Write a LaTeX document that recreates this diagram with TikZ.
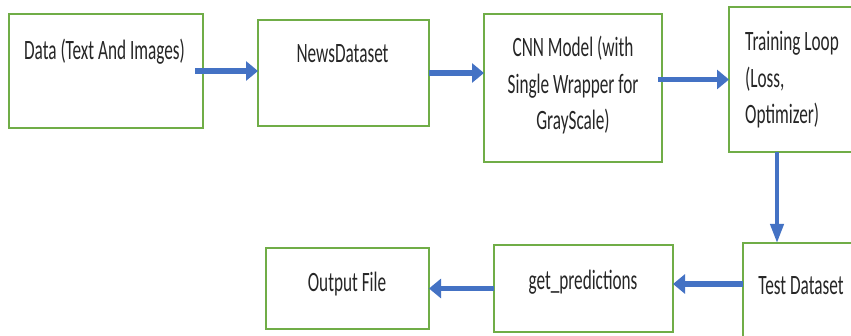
\documentclass[tikz,border=0pt]{standalone}
\usepackage{fontspec}
\setmainfont{Carlito}[FakeStretch=0.615]
\usetikzlibrary{arrows.meta}
\definecolor{boxgreen}{HTML}{70AD47}
\definecolor{arrblue}{HTML}{4472C4}
\definecolor{txtgray}{HTML}{262626}
\begin{document}
\begin{tikzpicture}[x=1pt,y=-1pt,
  box/.style={draw=boxgreen, line width=2pt, inner sep=0pt, outer sep=0pt, rectangle, fill=white},
  lbl/.style={font=\fontsize{28}{36.5}\selectfont, text=txtgray, inner sep=0pt},
  harr/.style={draw=arrblue, line width=5.5pt, -{Triangle[length=12pt,width=19pt]}},
  varr/.style={draw=arrblue, line width=4pt, -{Triangle[length=19pt,width=13pt]}}]
\useasboundingbox (0,0) rectangle (851,336);
\fill[white] (0,0) rectangle (851,336);
\clip (0,0) rectangle (851,336);
% boxes
\node[box, minimum width=194, minimum height=114] (data)  at (106,71) {};
\node[box, minimum width=171, minimum height=106] (news)  at (343.5,73) {};
\node[box, minimum width=178, minimum height=148] (cnn)   at (573,88) {};
\node[box, minimum width=141, minimum height=145] (train) at (799.5,79.5) {};
\node[box, minimum width=127, minimum height=107] (test)  at (806.5,296.5) {};
\node[box, minimum width=179, minimum height=87]  (pred)  at (583.5,288.5) {};
\node[box, minimum width=163, minimum height=81]  (out)   at (347.5,288.5) {};
% labels
\node[lbl, anchor=base] (tdata) at (104.5,60) {Data (Text And Images)};
\node[lbl, anchor=base] (tnews) at (342.5,63) {NewsDataset};
\node[lbl, anchor=base, align=center] (tcnn) at (573,130) {CNN Model (with\\Single Wrapper for\\GrayScale)};
\node[lbl, anchor=base west, align=left] (ttrain) at (745,124) {Training Loop\\(Loss,\\Optimizer)};
\node[lbl, anchor=base] (ttest) at (801,295) {Test Dataset};
\node[lbl, anchor=base] (tpred) at (583,290) {get\_predictions};
\node[lbl, anchor=base] (tout) at (347,292) {Output File};
% connector helper points
\coordinate (trainout) at ([xshift=-22.5pt]train.south);
\coordinate (testout) at ([yshift=12.5pt]test.west);
% connectors
\draw[harr] ([xshift=-8pt]data.east) -- (news.west |- data.east);
\draw[harr] (news.east) -- (cnn.west |- news.east);
\draw[harr] ([xshift=-4pt]cnn.east |- train.west) -- (train.west);
\draw[varr] (trainout) -- (trainout |- test.north);
\draw[harr] (testout) -- (pred.east |- testout);
\draw[harr] (pred.west) -- (out.east |- pred.west);
\end{tikzpicture}
\end{document}
